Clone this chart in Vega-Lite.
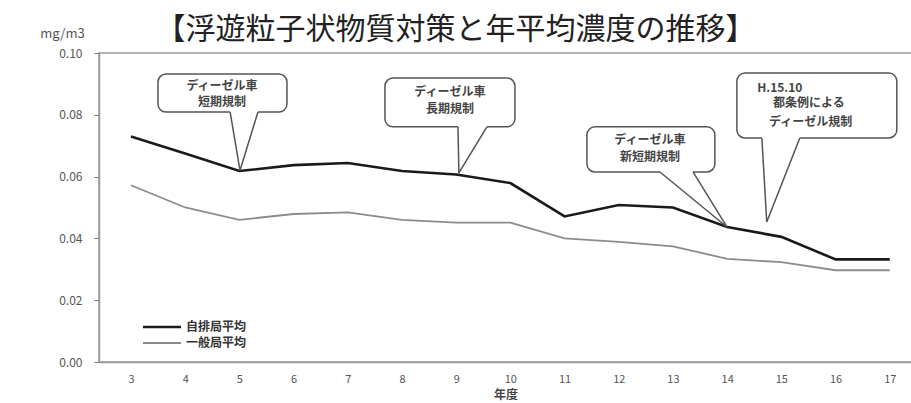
{
  "$schema": "https://vega.github.io/schema/vega-lite/v6.json",
  "autosize": {"type": "none"},
  "padding": {"left": 99, "top": 53, "right": 0, "bottom": 41},
  "width": 813,
  "height": 309,
  "background": "white",
  "config": {
    "font": "Noto Sans CJK JP",
    "view": {"stroke": "#9a9a9a", "strokeWidth": 1.5}
  },
  "title": {
    "text": "【浮遊粒子状物質対策と年平均濃度の推移】",
    "font": "Noto Sans CJK JP",
    "fontSize": 30,
    "fontWeight": "normal",
    "color": "#222222",
    "anchor": "middle",
    "dx": -50,
    "offset": -18
  },
  "datasets": {
    "series": [
      {"year": 3, "value": 0.073, "series": "自排局平均"},
      {"year": 4, "value": 0.0675, "series": "自排局平均"},
      {"year": 5, "value": 0.0618, "series": "自排局平均"},
      {"year": 6, "value": 0.0637, "series": "自排局平均"},
      {"year": 7, "value": 0.0644, "series": "自排局平均"},
      {"year": 8, "value": 0.0618, "series": "自排局平均"},
      {"year": 9, "value": 0.0607, "series": "自排局平均"},
      {"year": 10, "value": 0.0579, "series": "自排局平均"},
      {"year": 11, "value": 0.0471, "series": "自排局平均"},
      {"year": 12, "value": 0.0508, "series": "自排局平均"},
      {"year": 13, "value": 0.05, "series": "自排局平均"},
      {"year": 14, "value": 0.0437, "series": "自排局平均"},
      {"year": 15, "value": 0.0405, "series": "自排局平均"},
      {"year": 16, "value": 0.0332, "series": "自排局平均"},
      {"year": 17, "value": 0.0332, "series": "自排局平均"},
      {"year": 3, "value": 0.0572, "series": "一般局平均"},
      {"year": 4, "value": 0.05, "series": "一般局平均"},
      {"year": 5, "value": 0.046, "series": "一般局平均"},
      {"year": 6, "value": 0.0479, "series": "一般局平均"},
      {"year": 7, "value": 0.0484, "series": "一般局平均"},
      {"year": 8, "value": 0.046, "series": "一般局平均"},
      {"year": 9, "value": 0.0451, "series": "一般局平均"},
      {"year": 10, "value": 0.0451, "series": "一般局平均"},
      {"year": 11, "value": 0.04, "series": "一般局平均"},
      {"year": 12, "value": 0.0389, "series": "一般局平均"},
      {"year": 13, "value": 0.0374, "series": "一般局平均"},
      {"year": 14, "value": 0.0334, "series": "一般局平均"},
      {"year": 15, "value": 0.0323, "series": "一般局平均"},
      {"year": 16, "value": 0.0297, "series": "一般局平均"},
      {"year": 17, "value": 0.0297, "series": "一般局平均"}
    ],
    "boxes": [
      {"id": 1, "x1": 3.498, "x2": 5.878, "y1": 0.0932, "y2": 0.0809, "b1": 4.83, "b2": 5.343},
      {"id": 2, "x1": 7.686, "x2": 10.084, "y1": 0.0919, "y2": 0.0761, "b1": 9.033, "b2": 9.567},
      {"id": 3, "x1": 11.412, "x2": 13.773, "y1": 0.0761, "y2": 0.0615, "b1": 12.76, "b2": 13.37},
      {"id": 4, "x1": 14.179, "x2": 17.13, "y1": 0.0935, "y2": 0.0725, "b1": 14.64, "b2": 15.34}
    ],
    "pointers": [
      {"id": 1, "ord": 1, "px": 4.83, "py": 0.0809},
      {"id": 1, "ord": 2, "px": 5.011, "py": 0.062},
      {"id": 1, "ord": 3, "px": 5.343, "py": 0.0809},
      {"id": 2, "ord": 1, "px": 9.033, "py": 0.0761},
      {"id": 2, "ord": 2, "px": 9.05, "py": 0.0612},
      {"id": 2, "ord": 3, "px": 9.567, "py": 0.0761},
      {"id": 3, "ord": 1, "px": 12.76, "py": 0.0615},
      {"id": 3, "ord": 2, "px": 13.995, "py": 0.0437},
      {"id": 3, "ord": 3, "px": 13.37, "py": 0.0615},
      {"id": 4, "ord": 1, "px": 14.64, "py": 0.0725},
      {"id": 4, "ord": 2, "px": 14.73, "py": 0.0453},
      {"id": 4, "ord": 3, "px": 15.34, "py": 0.0725}
    ],
    "notes": [
      {"label": "ディーゼル車", "tx": 4.679, "ty": 0.0893},
      {"label": "短期規制", "tx": 4.679, "ty": 0.0841},
      {"label": "ディーゼル車", "tx": 8.885, "ty": 0.0873},
      {"label": "長期規制", "tx": 8.885, "ty": 0.0819},
      {"label": "ディーゼル車", "tx": 12.574, "ty": 0.0718},
      {"label": "新短期規制", "tx": 12.574, "ty": 0.0663},
      {"label": "H.15.10", "tx": 14.97, "ty": 0.0887},
      {"label": "都条例による", "tx": 15.507, "ty": 0.0838},
      {"label": "ディーゼル規制", "tx": 15.54, "ty": 0.0777}
    ]
  },
  "layer": [
    {
      "data": {"name": "series"},
      "mark": {"type": "line"},
      "encoding": {
        "x": {
          "field": "year", "type": "quantitative",
          "scale": {"domain": [2.41, 17.41], "nice": false, "zero": false},
          "axis": {
            "values": [3, 3.5, 4, 4.5, 5, 5.5, 6, 6.5, 7, 7.5, 8, 8.5, 9, 9.5, 10, 10.5, 11, 11.5, 12, 12.5, 13, 13.5, 14, 14.5, 15, 15.5, 16, 16.5, 17],
            "labelExpr": "datum.value % 1 === 0 ? datum.label : ''",
            "tickOpacity": {"condition": {"test": "datum.value % 1 !== 0", "value": 1}, "value": 0},
            "tickSize": 4,
            "tickColor": "#777777",
            "domainColor": "#9a9a9a",
            "domainWidth": 1.5,
            "labelPadding": 7,
            "labelFontSize": 11,
            "labelColor": "#555555",
            "labelOverlap": false,
            "labelFlush": false,
            "grid": false,
            "title": "年度",
            "titleFontSize": 12,
            "titleFontWeight": "bold",
            "titleColor": "#444444",
            "titlePadding": 5
          }
        },
        "y": {
          "field": "value", "type": "quantitative",
          "scale": {"domain": [0, 0.1], "nice": false},
          "axis": {
            "values": [0, 0.02, 0.04, 0.06, 0.08, 0.1],
            "format": ".2f",
            "grid": false,
            "tickSize": 5,
            "tickColor": "#777777",
            "domainColor": "#9a9a9a",
            "domainWidth": 1.5,
            "labelPadding": 12,
            "labelFontSize": 12,
            "labelColor": "#555555",
            "title": "mg/m3",
            "titleAngle": 0,
            "titleX": -37,
            "titleY": -20,
            "titleAlign": "center",
            "titleBaseline": "middle",
            "titleFontSize": 13,
            "titleFontWeight": "normal",
            "titleColor": "#555555"
          }
        },
        "color": {
          "field": "series", "type": "nominal",
          "scale": {"domain": ["自排局平均", "一般局平均"], "range": ["#1a1a1a", "#8c8c8c"]},
          "legend": {
            "orient": "none",
            "legendX": 53,
            "legendY": 264,
            "title": null,
            "symbolType": "M-2.2,0H2.2",
            "symbolSize": 300,
            "symbolStrokeWidth": 2.5,
            "labelFontSize": 12,
            "labelFontWeight": "bold",
            "labelColor": "#333333",
            "labelOffset": 14,
            "rowPadding": -2,
            "padding": 0
          }
        },
        "strokeWidth": {
          "field": "series", "type": "nominal",
          "scale": {"domain": ["自排局平均", "一般局平均"], "range": [2.6, 1.8]},
          "legend": null
        }
      }
    },
    {
      "data": {"name": "boxes"},
      "mark": {"type": "rect", "cornerRadius": 8, "fill": "white", "stroke": "#555555", "strokeWidth": 1.5},
      "encoding": {
        "x": {"field": "x1", "type": "quantitative"},
        "x2": {"field": "x2"},
        "y": {"field": "y1", "type": "quantitative"},
        "y2": {"field": "y2"}
      }
    },
    {
      "data": {"name": "boxes"},
      "mark": {"type": "rule", "stroke": "white", "strokeWidth": 3},
      "encoding": {
        "x": {"field": "b1", "type": "quantitative"},
        "x2": {"field": "b2"},
        "y": {"field": "y2", "type": "quantitative"}
      }
    },
    {
      "data": {"name": "pointers"},
      "mark": {"type": "line", "stroke": "#555555", "strokeWidth": 1.5},
      "encoding": {
        "x": {"field": "px", "type": "quantitative"},
        "y": {"field": "py", "type": "quantitative"},
        "detail": {"field": "id", "type": "nominal"},
        "order": {"field": "ord", "type": "quantitative"}
      }
    },
    {
      "data": {"name": "notes"},
      "mark": {"type": "text", "fontSize": 12, "fontWeight": "bold", "fill": "#444444", "align": "center", "baseline": "middle"},
      "encoding": {
        "x": {"field": "tx", "type": "quantitative"},
        "y": {"field": "ty", "type": "quantitative"},
        "text": {"field": "label", "type": "nominal"}
      }
    }
  ]
}
